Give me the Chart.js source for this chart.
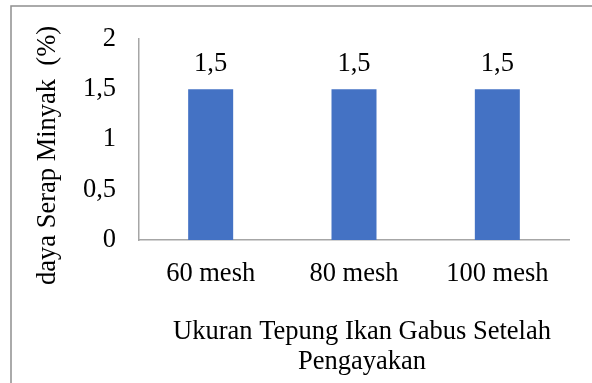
<!DOCTYPE html>
<html>
<head>
<meta charset="utf-8">
<style>
  html, body { margin: 0; padding: 0; background: #fff; }
  #wrap { width: 592px; height: 383px; position: relative; }
</style>
<script src="https://cdn.jsdelivr.net/npm/chart.js@4/dist/chart.umd.min.js"></script>
</head>
<body>
<div id="wrap"><canvas id="c" width="592" height="383"></canvas></div>
<script>
// Daya serap minyak per ukuran ayakan tepung ikan gabus
const categories = ['60 mesh', '80 mesh', '100 mesh'];
const dayaSerap = [1.5, 1.5, 1.5];
const yTicks = [0, 0.5, 1, 1.5, 2];
const yTitle = 'daya Serap Minyak  (%)';
const xTitle = ['Ukuran Tepung Ikan Gabus Setelah', 'Pengayakan'];

const FONT = '"Liberation Serif", "Times New Roman", serif';
const SIZE = 26.5;
const fmt = v => String(v).replace('.', ',');

// outer frame, value labels and axis titles
const decor = {
  id: 'decor',
  beforeDraw(chart) {
    const ctx = chart.ctx;
    ctx.save();
    ctx.strokeStyle = '#8f8f8f';
    ctx.lineWidth = 1.5;
    ctx.strokeRect(11, 6, 700, 500);
    ctx.restore();
  },
  afterDraw(chart) {
    const ctx = chart.ctx;
    const area = chart.chartArea;
    ctx.save();
    ctx.fillStyle = '#000';
    ctx.font = SIZE + 'px ' + FONT;
    ctx.textAlign = 'center';
    ctx.textBaseline = 'alphabetic';
    const meta = chart.getDatasetMeta(0);
    meta.data.forEach((bar, i) => {
      const p = bar.getProps(['x', 'y'], true);
      ctx.fillText(fmt(chart.data.datasets[0].data[i]), p.x, p.y - 18);
    });
    // x title
    const cx = (area.left + area.right) / 2 + 8;
    ctx.fillText(xTitle[0], cx, area.bottom + 99);
    ctx.fillText(xTitle[1], cx, area.bottom + 129);
    // y title
    ctx.translate(55, (area.top + area.bottom) / 2 + 16);
    ctx.rotate(-Math.PI / 2);
    ctx.fillText(yTitle, 0, 0);
    ctx.restore();
  }
};

new Chart(document.getElementById('c'), {
  type: 'bar',
  data: {
    labels: categories,
    datasets: [{
      data: dayaSerap,
      backgroundColor: '#4472C4',
      barPercentage: 0.314,
      categoryPercentage: 1
    }]
  },
  options: {
    responsive: false,
    animation: false,
    devicePixelRatio: 1,
    layout: { padding: { left: 0, right: 23, top: 36, bottom: 0 } },
    plugins: { legend: { display: false }, tooltip: { enabled: false } },
    scales: {
      x: {
        grid: { display: false, drawTicks: false },
        border: { display: true, color: '#a6a6a6', width: 1.5 },
        ticks: { color: '#000', font: { family: FONT, size: SIZE }, padding: 18, maxRotation: 0 },
        afterFit(scale) { scale.height = 143; }
      },
      y: {
        min: 0, max: 2,
        afterBuildTicks(scale) { scale.ticks = yTicks.map(v => ({ value: v })); },
        grid: { display: false, drawTicks: false },
        border: { display: true, color: '#a6a6a6', width: 1.5 },
        ticks: { color: '#000', font: { family: FONT, size: SIZE }, padding: 23, callback: v => fmt(v) },
        afterFit(scale) { scale.width = 139; }
      }
    }
  },
  plugins: [decor]
});
</script>
</body>
</html>
